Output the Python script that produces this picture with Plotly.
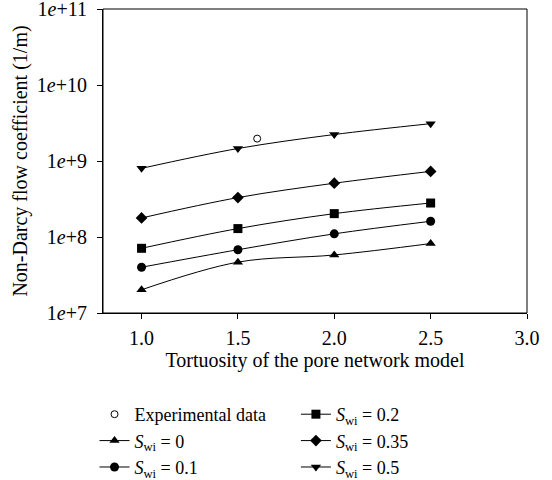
import plotly.graph_objects as go

tortuosity = [1.0, 1.5, 2.0, 2.5]
sw0 = [2.02e7, 4.67e7, 5.8e7, 8.2e7]
sw01 = [4.0e7, 6.8e7, 1.1e8, 1.61e8]
sw02 = [7.1e7, 1.29e8, 2.03e8, 2.8e8]
sw035 = [1.78e8, 3.3e8, 5.1e8, 7.3e8]
sw05 = [8.0e8, 1.46e9, 2.23e9, 3.1e9]
exp_x = [1.6]
exp_y = [1.97e9]

y_tickvals = [1e7, 1e8, 1e9, 1e10, 1e11]
y_ticktext = ["1<i>e</i>+7", "1<i>e</i>+8", "1<i>e</i>+9", "1<i>e</i>+10", "1<i>e</i>+11"]
x_tickvals = [1.0, 1.5, 2.0, 2.5, 3.0]
x_ticktext = ["1.0", "1.5", "2.0", "2.5", "3.0"]

FONT = "Liberation Serif"
FS = 20
LFS = 18
fig = go.Figure()

fig.add_trace(go.Scatter(x=exp_x, y=exp_y, mode="markers", name="Experimental data",
                         marker=dict(symbol="circle-open", size=7, color="black", line=dict(width=1)),
                         legend="legend"))

series = [
    (sw0, "triangle-up", "<i>S</i><sub>wi</sub> = 0", "legend"),
    (sw01, "circle", "<i>S</i><sub>wi</sub> = 0.1", "legend"),
    (sw02, "square", "<i>S</i><sub>wi</sub> = 0.2", "legend2"),
    (sw035, "diamond", "<i>S</i><sub>wi</sub> = 0.35", "legend2"),
    (sw05, "triangle-down", "<i>S</i><sub>wi</sub> = 0.5", "legend2"),
]
for ys, sym, name, lg in series:
    fig.add_trace(go.Scatter(x=tortuosity, y=ys, mode="lines+markers", name=name,
                             line=dict(color="black", width=1, shape="spline"),
                             marker=dict(symbol=sym, size=9, color="black"),
                             legend=lg))

axis_common = dict(showline=True, linecolor="black", linewidth=1,
                   ticks="outside", ticklen=5, tickcolor="black", showgrid=False,
                   zeroline=False, ticklabeloverflow="allow",
                   tickfont=dict(family=FONT, size=FS, color="black"))

fig.update_xaxes(range=[0.8, 3.0], tickvals=x_tickvals, ticktext=x_ticktext,
                 ticklabelstandoff=2,
                 title=dict(text="Tortuosity of the pore network model",
                            font=dict(family=FONT, size=FS, color="black"), standoff=2),
                 **axis_common)
fig.update_yaxes(type="log", range=[6.99999, 11.00001], tickvals=y_tickvals, ticktext=y_ticktext,
                 ticklabelstandoff=6,
                 title=dict(text="Non-Darcy flow coefficient (1/m)",
                            font=dict(family=FONT, size=FS, color="black"), standoff=3),
                 **axis_common)

# plot frame (top and right sides)
fig.add_shape(type="rect", xref="paper", yref="paper", x0=0, x1=1, y0=0, y1=1,
              line=dict(color="black", width=1), fillcolor="rgba(0,0,0,0)", layer="above")

legend_common = dict(font=dict(family=FONT, size=LFS, color="black"), bgcolor="rgba(0,0,0,0)",
                     xanchor="left", yanchor="top", orientation="v", tracegroupgap=0,
                     itemwidth=30)
fig.update_layout(
    width=552, height=480,
    margin=dict(l=103, r=25, t=9, b=167, autoexpand=False),
    plot_bgcolor="white", paper_bgcolor="white",
    font=dict(family=FONT, size=FS, color="black"),
    showlegend=True,
    legend=dict(x=-0.02, y=-0.273, **legend_common),
    legend2=dict(x=0.455, y=-0.273, **legend_common),
)

fig.write_html("out.html")
